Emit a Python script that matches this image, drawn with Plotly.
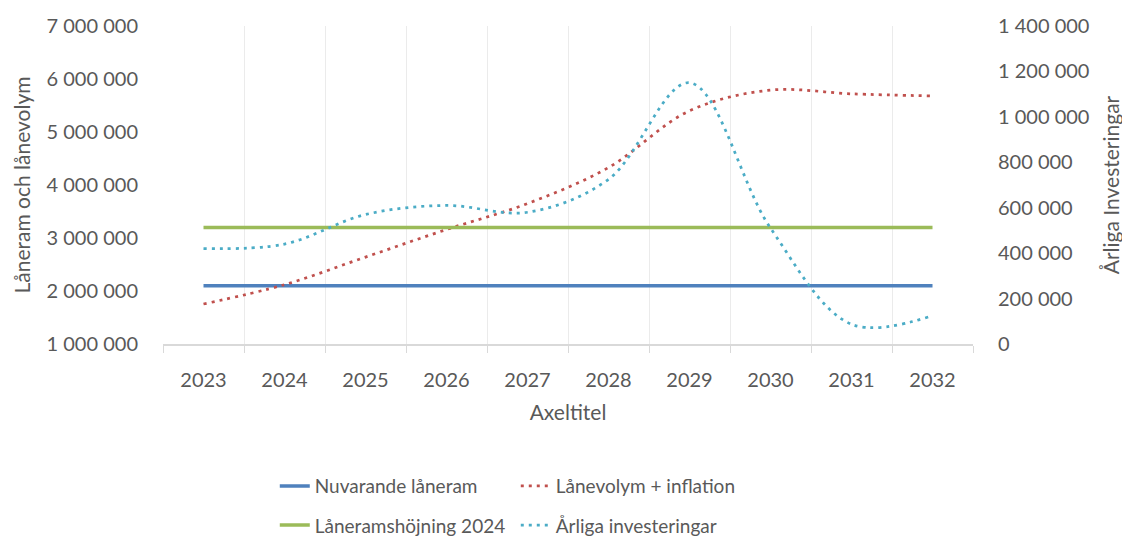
import plotly.graph_objects as go

years = ["2023", "2024", "2025", "2026", "2027", "2028", "2029", "2030", "2031", "2032"]
nuvarande_laneram = [2100000, 2100000, 2100000, 2100000, 2100000, 2100000, 2100000, 2100000, 2100000, 2100000]
laneramshojning_2024 = [3200000, 3200000, 3200000, 3200000, 3200000, 3200000, 3200000, 3200000, 3200000, 3200000]
lanevolym_inflation = [1755000, 2120000, 2640000, 3160000, 3650000, 4330000, 5400000, 5790000, 5720000, 5680000]
arliga_investeringar = [420000, 440000, 570000, 610000, 580000, 725000, 1150000, 510000, 87000, 125000]

FONT = "Lato"
TXT = "#595959"
GRID = "#ebebeb"

fig = go.Figure()
fig.add_trace(go.Scatter(x=years, y=nuvarande_laneram, name="Nuvarande låneram", mode="lines",
                         line=dict(color="#4F81BD", width=3.5), legend="legend"))
fig.add_trace(go.Scatter(x=years, y=lanevolym_inflation, name="Lånevolym + inflation", mode="lines",
                         line=dict(color="#C0504D", width=2.75, dash="3px,5px", shape="spline", smoothing=1.0),
                         legend="legend"))
fig.add_trace(go.Scatter(x=years, y=laneramshojning_2024, name="Låneramshöjning 2024", mode="lines",
                         line=dict(color="#9BBB59", width=3.5), legend="legend2"))
fig.add_trace(go.Scatter(x=years, y=arliga_investeringar, name="Årliga investeringar", mode="lines", yaxis="y2",
                         line=dict(color="#4BACC6", width=2.75, dash="3px,5px", shape="spline", smoothing=1.0),
                         legend="legend2"))

for yr in years:
    fig.add_shape(type="line", xref="x", yref="paper", x0=yr, x1=yr, y0=0, y1=1,
                  line=dict(color=GRID, width=1), layer="below")

legend_common = dict(orientation="h", xanchor="left", yanchor="middle", entrywidth=196,
                     font=dict(family=FONT, size=19, color=TXT), bgcolor="rgba(0,0,0,0)",
                     itemwidth=30, tracegroupgap=0)

fig.update_layout(
    width=1122, height=533,
    margin=dict(l=155, r=157, t=18, b=197, autoexpand=False),
    paper_bgcolor="white", plot_bgcolor="white",
    separators=", ",
    font=dict(family=FONT, size=20, color=TXT),
    showlegend=True,
    legend=dict(x=0.138, y=-0.447, **legend_common),
    legend2=dict(x=0.138, y=-0.570, **legend_common),
    xaxis=dict(
        type="category", range=[-0.5, 9.5], tickson="boundaries",
        showgrid=True, gridcolor=GRID, gridwidth=1,
        showline=True, linecolor="#d9d9d9", linewidth=1.5,
        ticks="outside", ticklen=7, tickcolor="#d9d9d9",
        ticklabelstandoff=17, automargin=False,
        tickfont=dict(family=FONT, size=20, color=TXT),
        title=dict(text="Axeltitel", font=dict(family=FONT, size=21, color=TXT), standoff=16),
        zeroline=False,
    ),
    yaxis=dict(
        range=[1000000, 7000000], dtick=1000000, tickformat=",d",
        showgrid=False, zeroline=False, showline=False, automargin=False,
        ticks="outside", ticklen=20, tickcolor="rgba(0,0,0,0)",
        tickfont=dict(family=FONT, size=20, color=TXT),
        title=dict(text="Låneram och lånevolym", font=dict(family=FONT, size=21, color=TXT), standoff=10),
    ),
    yaxis2=dict(
        range=[0, 1400000], dtick=200000, tickformat=",d",
        overlaying="y", side="right", automargin=False,
        showgrid=False, zeroline=False, showline=False,
        ticks="outside", ticklen=20, tickcolor="rgba(0,0,0,0)",
        tickfont=dict(family=FONT, size=20, color=TXT),
        title=dict(text="Årliga Investeringar", font=dict(family=FONT, size=21, color=TXT), standoff=15),
    ),
)

fig.write_html("out.html")
